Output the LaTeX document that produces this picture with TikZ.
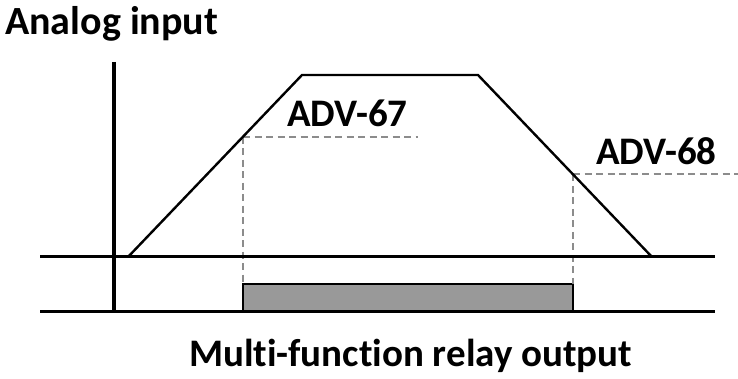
\documentclass[tikz,border=0pt]{standalone}
\usepackage{fontspec}
\setmainfont{Carlito}[Ligatures=NoCommon]
\begin{document}
\begin{tikzpicture}[x=1pt,y=1pt,
  vaxis/.style={line width=3.6pt,black},
  haxis/.style={line width=3pt,black},
  curve/.style={line width=2.4pt,black,line join=miter},
  guide/.style={line width=2pt,draw=black!45,dash pattern=on 7pt off 4.5pt},
  lbl/.style={inner sep=0pt,anchor=base west,font=\fontsize{39}{41}\selectfont\bfseries},
  relaybar/.style={fill=black!40,draw=black,line width=2.2pt}]
\useasboundingbox (0,0) rectangle (738,379);
% coordinates
\coordinate (axtop) at (114,317);
\coordinate (axbot) at (114,67);
\coordinate (b1l) at (40,122);
\coordinate (b1r) at (715,122);
\coordinate (b2l) at (40,67);
\coordinate (b2r) at (715,67);
\coordinate (t0) at (128,122);
\coordinate (t1) at (302,304);
\coordinate (t2) at (478,304);
\coordinate (t3) at (652,122);
\coordinate (p67) at (243,242.3);
\coordinate (p67e) at (418,242.3);
\coordinate (p68) at (573,204.6);
\coordinate (p68e) at (738,204.6);
\coordinate (r67) at (243,95);
\coordinate (r68) at (573,95);
% relay bar
\draw[relaybar] (243,67) rectangle (573,95);
% guides
\draw[guide] (p67) -- (p67e);
\draw[guide] (p67) -- (r67);
\draw[guide] (p68) -- (p68e);
\draw[guide] (p68) -- (r68);
% axes
\draw[vaxis] (axtop) -- (axbot);
\draw[haxis] (b1l) -- (b1r);
\draw[haxis] (b2l) -- (b2r);
% trapezoid
\draw[curve] (t0) -- (t1) -- (t2) -- (t3);
% labels
\node[lbl,font=\fontsize{40}{42}\selectfont\bfseries] (ain) at (5,344) {Analog input};
\node[lbl] (l67) at (287,252) {ADV-67};
\node[lbl] (l68) at (596,214) {ADV-68};
\node[lbl] (mfo) at (189,12) {Multi-function relay output};
\end{tikzpicture}
\end{document}
